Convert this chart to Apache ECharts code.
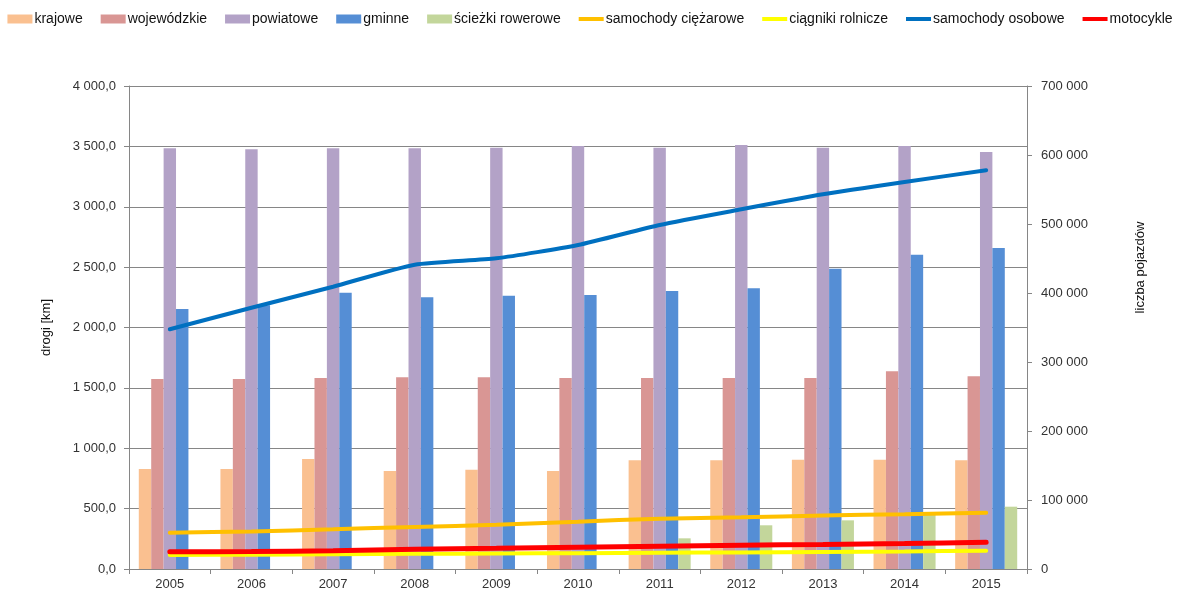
<!DOCTYPE html>
<html>
<head>
<meta charset="utf-8">
<script src="https://cdn.jsdelivr.net/npm/echarts@6/dist/echarts.min.js"></script>
<style>
  html, body { margin: 0; padding: 0; background: #fff; }
  #chart { width: 1180px; height: 599px; }
</style>
</head>
<body>
<div id="chart"></div>
<script>
// Years on the category axis
const years = ['2005', '2006', '2007', '2008', '2009', '2010', '2011', '2012', '2013', '2014', '2015'];

// Road lengths [km] (left axis)
const krajowe = [828, 828, 911, 811, 822, 811, 900, 900, 905, 905, 900];
const wojewodzkie = [1573, 1573, 1582, 1588, 1588, 1582, 1582, 1582, 1582, 1637, 1596];
const powiatowe = [3484, 3476, 3484, 3484, 3489, 3503, 3489, 3511, 3489, 3503, 3453];
const gminne = [2153, 2185, 2288, 2250, 2263, 2269, 2302, 2325, 2487, 2603, 2658];
const sciezki = [null, null, null, null, null, null, 254, 362, 403, 470, 516];

// Vehicle counts (right axis)
const ciezarowe = [52600, 54500, 57500, 61000, 64000, 68500, 73000, 75000, 77500, 79500, 81600];
const ciagniki = [20300, 20800, 21500, 22000, 22500, 23000, 23500, 24000, 24800, 25500, 26500];
const osobowe = [347400, 378700, 409100, 441000, 450300, 469600, 498600, 521300, 543000, 560900, 577800];
const motocykle = [25100, 25300, 26500, 28500, 30000, 31500, 33000, 34500, 35500, 37000, 38700];

const FONT = 'Liberation Sans';
const AXIS_GRAY = '#868686';
const TEXT = '#333333';

// Legend marker for line series: a 4px stroke inside a 25x9 box
const LINE_ICON = 'path://M0,0 M25,9 M0,2.5 H25 V6.5 H0 Z';

function groupThousands(s) {
  return s.replace(/\B(?=(\d{3})+(?!\d))/g, ' ');
}
function fmtKm(v) {
  const parts = v.toFixed(1).split('.');
  return groupThousands(parts[0]) + ',' + parts[1];
}
function fmtCount(v) {
  return groupThousands(String(Math.round(v)));
}

function barSeries(name, data, color) {
  return {
    name, type: 'bar', data, yAxisIndex: 0,
    barGap: '0%', barCategoryGap: '24%',
    itemStyle: { color },
    emphasis: { disabled: true }
  };
}
function lineSeries(name, data, color, width) {
  return {
    name, type: 'line', data, yAxisIndex: 1,
    symbol: 'none', smooth: 0.2,
    lineStyle: { color, width, cap: 'round' },
    itemStyle: { color },
    emphasis: { disabled: true }
  };
}

const chart = echarts.init(document.getElementById('chart'), null, { renderer: 'canvas' });

chart.setOption({
  animation: false,
  textStyle: { fontFamily: FONT },
  legend: {
    top: 7, left: 'center',
    itemWidth: 25, itemHeight: 9, itemGap: 18,
    textStyle: { fontFamily: FONT, fontSize: 14, color: '#111', padding: [0, 0, 0, -3] },
    data: [
      { name: 'krajowe', icon: 'rect' },
      { name: 'wojewódzkie', icon: 'rect' },
      { name: 'powiatowe', icon: 'rect' },
      { name: 'gminne', icon: 'rect' },
      { name: 'ścieżki rowerowe', icon: 'rect' },
      { name: 'samochody ciężarowe', icon: LINE_ICON },
      { name: 'ciągniki rolnicze', icon: LINE_ICON },
      { name: 'samochody osobowe', icon: LINE_ICON },
      { name: 'motocykle', icon: LINE_ICON }
    ]
  },
  grid: { left: 129, right: 153, top: 86, bottom: 30, containLabel: false },
  xAxis: {
    type: 'category', data: years, boundaryGap: true,
    axisLine: { lineStyle: { color: AXIS_GRAY } },
    axisTick: { show: true, length: 5, interval: 0, lineStyle: { color: AXIS_GRAY } },
    axisLabel: { color: TEXT, fontSize: 13, margin: 9 }
  },
  yAxis: [
    {
      type: 'value', position: 'left', min: 0, max: 4000, interval: 500,
      name: 'drogi [km]', nameLocation: 'middle', nameGap: 76, nameRotate: 90,
      nameTextStyle: { color: '#111', fontSize: 13 },
      axisLine: { show: true, lineStyle: { color: AXIS_GRAY } },
      axisTick: { show: true, length: 5, lineStyle: { color: AXIS_GRAY } },
      axisLabel: { color: TEXT, fontSize: 13, margin: 13, formatter: fmtKm },
      splitLine: { show: true, lineStyle: { color: AXIS_GRAY, width: 1 } }
    },
    {
      type: 'value', position: 'right', min: 0, max: 700000, interval: 100000,
      name: 'liczba pojazdów', nameLocation: 'middle', nameGap: 107, nameRotate: 90,
      nameTextStyle: { color: '#111', fontSize: 13, padding: [0, 0, 0, 120] },
      axisLine: { show: true, lineStyle: { color: AXIS_GRAY } },
      axisTick: { show: true, length: 5, lineStyle: { color: AXIS_GRAY } },
      axisLabel: { color: TEXT, fontSize: 13, margin: 14, formatter: fmtCount },
      splitLine: { show: false }
    }
  ],
  series: [
    barSeries('krajowe', krajowe, '#FAC090'),
    barSeries('wojewódzkie', wojewodzkie, '#D99694'),
    barSeries('powiatowe', powiatowe, '#B3A2C7'),
    barSeries('gminne', gminne, '#558ED5'),
    barSeries('ścieżki rowerowe', sciezki, '#C3D69B'),
    lineSeries('samochody ciężarowe', ciezarowe, '#FFC000', 4),
    lineSeries('ciągniki rolnicze', ciagniki, '#FFFF00', 4),
    lineSeries('samochody osobowe', osobowe, '#0070C0', 4),
    lineSeries('motocykle', motocykle, '#FF0000', 5)
  ]
});
</script>
</body>
</html>
